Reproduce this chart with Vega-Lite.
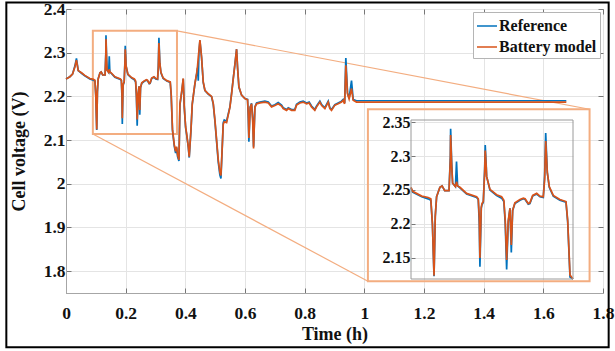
{
  "$schema": "https://vega.github.io/schema/vega-lite/v6.json",
  "width": 537,
  "height": 284,
  "autosize": "none",
  "padding": {"left": 66, "top": 9, "right": 12, "bottom": 58},
  "background": "white",
  "config": {"view": {"stroke": "#a6a6a6", "strokeWidth": 1}, "font": "Liberation Serif"},
  "datasets": {
    "v": [
      {"t": 0.000, "ref": 2.240, "mod": 2.240},
      {"t": 0.013, "ref": 2.245, "mod": 2.245},
      {"t": 0.022, "ref": 2.251, "mod": 2.251},
      {"t": 0.030, "ref": 2.270, "mod": 2.268},
      {"t": 0.035, "ref": 2.287, "mod": 2.283},
      {"t": 0.041, "ref": 2.259, "mod": 2.259},
      {"t": 0.052, "ref": 2.253, "mod": 2.254},
      {"t": 0.063, "ref": 2.247, "mod": 2.248},
      {"t": 0.080, "ref": 2.240, "mod": 2.241},
      {"t": 0.092, "ref": 2.237, "mod": 2.239},
      {"t": 0.097, "ref": 2.235, "mod": 2.237},
      {"t": 0.100, "ref": 2.200, "mod": 2.200},
      {"t": 0.103, "ref": 2.123, "mod": 2.124},
      {"t": 0.1053, "ref": 2.211, "mod": 2.211},
      {"t": 0.1078, "ref": 2.240, "mod": 2.240},
      {"t": 0.114, "ref": 2.254, "mod": 2.254},
      {"t": 0.118, "ref": 2.256, "mod": 2.256},
      {"t": 0.123, "ref": 2.249, "mod": 2.249},
      {"t": 0.131, "ref": 2.249, "mod": 2.249},
      {"t": 0.1335, "ref": 2.300, "mod": 2.295},
      {"t": 0.134, "ref": 2.340, "mod": 2.331},
      {"t": 0.136, "ref": 2.290, "mod": 2.285},
      {"t": 0.1377, "ref": 2.260, "mod": 2.260},
      {"t": 0.143, "ref": 2.255, "mod": 2.255},
      {"t": 0.145, "ref": 2.292, "mod": 2.262},
      {"t": 0.147, "ref": 2.256, "mod": 2.256},
      {"t": 0.1514, "ref": 2.253, "mod": 2.254},
      {"t": 0.1638, "ref": 2.244, "mod": 2.245},
      {"t": 0.1825, "ref": 2.239, "mod": 2.240},
      {"t": 0.1856, "ref": 2.236, "mod": 2.237},
      {"t": 0.1875, "ref": 2.200, "mod": 2.210},
      {"t": 0.1887, "ref": 2.137, "mod": 2.150},
      {"t": 0.1912, "ref": 2.223, "mod": 2.225},
      {"t": 0.1925, "ref": 2.228, "mod": 2.230},
      {"t": 0.195, "ref": 2.232, "mod": 2.233},
      {"t": 0.1975, "ref": 2.280, "mod": 2.275},
      {"t": 0.1986, "ref": 2.316, "mod": 2.308},
      {"t": 0.2005, "ref": 2.285, "mod": 2.283},
      {"t": 0.2012, "ref": 2.270, "mod": 2.270},
      {"t": 0.2074, "ref": 2.250, "mod": 2.251},
      {"t": 0.2199, "ref": 2.242, "mod": 2.243},
      {"t": 0.2292, "ref": 2.238, "mod": 2.240},
      {"t": 0.2334, "ref": 2.233, "mod": 2.235},
      {"t": 0.236, "ref": 2.200, "mod": 2.205},
      {"t": 0.2386, "ref": 2.133, "mod": 2.147},
      {"t": 0.2416, "ref": 2.203, "mod": 2.205},
      {"t": 0.2448, "ref": 2.223, "mod": 2.223},
      {"t": 0.2473, "ref": 2.158, "mod": 2.169},
      {"t": 0.2498, "ref": 2.220, "mod": 2.220},
      {"t": 0.254, "ref": 2.230, "mod": 2.231},
      {"t": 0.2635, "ref": 2.235, "mod": 2.236},
      {"t": 0.2697, "ref": 2.237, "mod": 2.238},
      {"t": 0.273, "ref": 2.236, "mod": 2.237},
      {"t": 0.279, "ref": 2.229, "mod": 2.230},
      {"t": 0.282, "ref": 2.230, "mod": 2.231},
      {"t": 0.2872, "ref": 2.241, "mod": 2.242},
      {"t": 0.2947, "ref": 2.244, "mod": 2.245},
      {"t": 0.3008, "ref": 2.240, "mod": 2.241},
      {"t": 0.307, "ref": 2.239, "mod": 2.240},
      {"t": 0.3095, "ref": 2.270, "mod": 2.265},
      {"t": 0.3115, "ref": 2.334, "mod": 2.322},
      {"t": 0.3145, "ref": 2.276, "mod": 2.276},
      {"t": 0.3182, "ref": 2.254, "mod": 2.255},
      {"t": 0.3257, "ref": 2.241, "mod": 2.242},
      {"t": 0.338, "ref": 2.235, "mod": 2.236},
      {"t": 0.3494, "ref": 2.232, "mod": 2.233},
      {"t": 0.3526, "ref": 2.203, "mod": 2.205},
      {"t": 0.3569, "ref": 2.122, "mod": 2.125},
      {"t": 0.363, "ref": 2.086, "mod": 2.089},
      {"t": 0.3674, "ref": 2.070, "mod": 2.074},
      {"t": 0.3707, "ref": 2.083, "mod": 2.085},
      {"t": 0.374, "ref": 2.062, "mod": 2.066},
      {"t": 0.3786, "ref": 2.052, "mod": 2.055},
      {"t": 0.3819, "ref": 2.180, "mod": 2.183},
      {"t": 0.3875, "ref": 2.208, "mod": 2.210},
      {"t": 0.393, "ref": 2.240, "mod": 2.241},
      {"t": 0.3964, "ref": 2.175, "mod": 2.176},
      {"t": 0.401, "ref": 2.128, "mod": 2.130},
      {"t": 0.4043, "ref": 2.113, "mod": 2.115},
      {"t": 0.410, "ref": 2.083, "mod": 2.085},
      {"t": 0.413, "ref": 2.060, "mod": 2.062},
      {"t": 0.4188, "ref": 2.121, "mod": 2.123},
      {"t": 0.4232, "ref": 2.182, "mod": 2.183},
      {"t": 0.432, "ref": 2.228, "mod": 2.229},
      {"t": 0.4378, "ref": 2.251, "mod": 2.252},
      {"t": 0.441, "ref": 2.265, "mod": 2.270},
      {"t": 0.4434, "ref": 2.236, "mod": 2.290},
      {"t": 0.4456, "ref": 2.300, "mod": 2.305},
      {"t": 0.4489, "ref": 2.328, "mod": 2.329},
      {"t": 0.4545, "ref": 2.288, "mod": 2.289},
      {"t": 0.460, "ref": 2.232, "mod": 2.233},
      {"t": 0.4657, "ref": 2.213, "mod": 2.214},
      {"t": 0.4768, "ref": 2.205, "mod": 2.206},
      {"t": 0.488, "ref": 2.199, "mod": 2.200},
      {"t": 0.4936, "ref": 2.182, "mod": 2.184},
      {"t": 0.4992, "ref": 2.143, "mod": 2.146},
      {"t": 0.5048, "ref": 2.097, "mod": 2.100},
      {"t": 0.5103, "ref": 2.050, "mod": 2.055},
      {"t": 0.5159, "ref": 2.020, "mod": 2.026},
      {"t": 0.5193, "ref": 2.012, "mod": 2.019},
      {"t": 0.5237, "ref": 2.083, "mod": 2.085},
      {"t": 0.527, "ref": 2.140, "mod": 2.136},
      {"t": 0.5304, "ref": 2.146, "mod": 2.142},
      {"t": 0.5382, "ref": 2.143, "mod": 2.140},
      {"t": 0.5494, "ref": 2.176, "mod": 2.175},
      {"t": 0.555, "ref": 2.207, "mod": 2.205},
      {"t": 0.5606, "ref": 2.241, "mod": 2.240},
      {"t": 0.5662, "ref": 2.274, "mod": 2.273},
      {"t": 0.5718, "ref": 2.308, "mod": 2.308},
      {"t": 0.575, "ref": 2.266, "mod": 2.267},
      {"t": 0.5796, "ref": 2.221, "mod": 2.222},
      {"t": 0.5885, "ref": 2.203, "mod": 2.203},
      {"t": 0.5997, "ref": 2.195, "mod": 2.195},
      {"t": 0.6086, "ref": 2.193, "mod": 2.192},
      {"t": 0.611, "ref": 2.150, "mod": 2.160},
      {"t": 0.613, "ref": 2.096, "mod": 2.105},
      {"t": 0.6175, "ref": 2.176, "mod": 2.175},
      {"t": 0.622, "ref": 2.184, "mod": 2.183},
      {"t": 0.626, "ref": 2.150, "mod": 2.140},
      {"t": 0.6287, "ref": 2.085, "mod": 2.081},
      {"t": 0.6332, "ref": 2.176, "mod": 2.175},
      {"t": 0.6388, "ref": 2.185, "mod": 2.183},
      {"t": 0.650, "ref": 2.187, "mod": 2.185},
      {"t": 0.6667, "ref": 2.189, "mod": 2.187},
      {"t": 0.678, "ref": 2.187, "mod": 2.185},
      {"t": 0.689, "ref": 2.178, "mod": 2.176},
      {"t": 0.7002, "ref": 2.181, "mod": 2.179},
      {"t": 0.7113, "ref": 2.186, "mod": 2.183},
      {"t": 0.7225, "ref": 2.180, "mod": 2.178},
      {"t": 0.7281, "ref": 2.174, "mod": 2.172},
      {"t": 0.7393, "ref": 2.170, "mod": 2.168},
      {"t": 0.745, "ref": 2.174, "mod": 2.172},
      {"t": 0.756, "ref": 2.170, "mod": 2.168},
      {"t": 0.767, "ref": 2.170, "mod": 2.168},
      {"t": 0.7728, "ref": 2.182, "mod": 2.180},
      {"t": 0.7839, "ref": 2.187, "mod": 2.185},
      {"t": 0.795, "ref": 2.189, "mod": 2.187},
      {"t": 0.8063, "ref": 2.185, "mod": 2.183},
      {"t": 0.815, "ref": 2.187, "mod": 2.185},
      {"t": 0.823, "ref": 2.178, "mod": 2.176},
      {"t": 0.834, "ref": 2.170, "mod": 2.168},
      {"t": 0.840, "ref": 2.178, "mod": 2.176},
      {"t": 0.851, "ref": 2.189, "mod": 2.187},
      {"t": 0.857, "ref": 2.181, "mod": 2.179},
      {"t": 0.8677, "ref": 2.174, "mod": 2.172},
      {"t": 0.879, "ref": 2.189, "mod": 2.187},
      {"t": 0.8844, "ref": 2.174, "mod": 2.172},
      {"t": 0.890, "ref": 2.170, "mod": 2.168},
      {"t": 0.9012, "ref": 2.181, "mod": 2.180},
      {"t": 0.9123, "ref": 2.185, "mod": 2.183},
      {"t": 0.9235, "ref": 2.189, "mod": 2.187},
      {"t": 0.929, "ref": 2.193, "mod": 2.191},
      {"t": 0.934, "ref": 2.185, "mod": 2.183},
      {"t": 0.938, "ref": 2.288, "mod": 2.271},
      {"t": 0.9436, "ref": 2.208, "mod": 2.206},
      {"t": 0.949, "ref": 2.196, "mod": 2.194},
      {"t": 0.957, "ref": 2.236, "mod": 2.218},
      {"t": 0.9626, "ref": 2.193, "mod": 2.191},
      {"t": 0.9737, "ref": 2.190, "mod": 2.187},
      {"t": 1.0, "ref": 2.190, "mod": 2.187},
      {"t": 1.2, "ref": 2.190, "mod": 2.187},
      {"t": 1.4, "ref": 2.190, "mod": 2.187},
      {"t": 1.6, "ref": 2.190, "mod": 2.187},
      {"t": 1.677, "ref": 2.190, "mod": 2.187}
    ]
  },
  "data": {"name": "v"},
  "resolve": {"scale": {"x": "independent", "y": "independent"}},
  "layer": [
    {
      "layer": [
        {
          "data": {"values": [{}]},
          "mark": {"type": "rect", "fill": null, "stroke": "#000000", "strokeWidth": 2, "clip": false},
          "encoding": {
            "x": {"datum": -0.2, "type": "quantitative", "scale": {"domain": [0, 1.8], "nice": false, "zero": false}},
            "x2": {"datum": 1.819},
            "y": {"datum": 2.4148, "type": "quantitative", "scale": {"domain": [1.75, 2.4], "nice": false, "zero": false}},
            "y2": {"datum": 1.6261}
          }
        },
        {
          "data": {"values": [{}]},
          "mark": {"type": "rect", "fill": null, "stroke": "#F3AD80", "strokeWidth": 2},
          "encoding": {
            "x": {"datum": 0.09, "type": "quantitative"},
            "x2": {"datum": 0.372},
            "y": {"datum": 2.35, "type": "quantitative"},
            "y2": {"datum": 2.114}
          }
        },
        {
          "data": {"values": [{}]},
          "mark": {"type": "rect", "fill": null, "stroke": "#F3AD80", "strokeWidth": 2},
          "encoding": {
            "x": {"datum": 1.012, "type": "quantitative"},
            "x2": {"datum": 1.755},
            "y": {"datum": 2.1705, "type": "quantitative"},
            "y2": {"datum": 1.777}
          }
        },
        {
          "data": {"values": [{}]},
          "mark": {"type": "rule", "stroke": "#F3AD80", "strokeWidth": 1.2},
          "encoding": {
            "x": {"datum": 0.372, "type": "quantitative"},
            "x2": {"datum": 1.755},
            "y": {"datum": 2.35, "type": "quantitative"},
            "y2": {"datum": 2.1705}
          }
        },
        {
          "data": {"values": [{}]},
          "mark": {"type": "rule", "stroke": "#F3AD80", "strokeWidth": 1.2},
          "encoding": {
            "x": {"datum": 0.09, "type": "quantitative"},
            "x2": {"datum": 1.012},
            "y": {"datum": 2.114, "type": "quantitative"},
            "y2": {"datum": 1.777}
          }
        },
        {
          "mark": {"type": "line", "strokeWidth": 1.7},
          "encoding": {
            "x": {
              "field": "t", "type": "quantitative",
              "scale": {"domain": [0, 1.8], "nice": false, "zero": false},
              "axis": {
                "title": "Time (h)", "values": [0, 0.2, 0.4, 0.6, 0.8, 1, 1.2, 1.4, 1.6, 1.8], "format": "~g",
                "labelFont": "Liberation Serif", "labelFontSize": 17.5, "labelFontWeight": "bold", "labelColor": "#111111",
                "labelFlush": false, "labelOverlap": false, "labelPadding": 16,
                "titleFont": "Liberation Serif", "titleFontSize": 18, "titleFontWeight": "bold", "titleColor": "#111111", "titlePadding": 4,
                "domainColor": "#a6a6a6", "tickColor": "#777777", "tickSize": -5,
                "grid": true, "gridColor": "#e4e4e4"
              }
            },
            "y": {
              "field": "ref", "type": "quantitative",
              "scale": {"domain": [1.75, 2.4], "nice": false, "zero": false},
              "axis": {
                "title": "Cell voltage (V)", "values": [1.8, 1.9, 2, 2.1, 2.2, 2.3, 2.4], "format": "~g",
                "labelFont": "Liberation Serif", "labelFontSize": 17.5, "labelFontWeight": "bold", "labelColor": "#111111",
                "labelFlush": false, "labelOverlap": false, "labelPadding": 6,
                "titleFont": "Liberation Serif", "titleFontSize": 18, "titleFontWeight": "bold", "titleColor": "#111111", "titlePadding": 15,
                "domainColor": "#a6a6a6", "tickColor": "#777777", "tickSize": -5,
                "grid": true, "gridColor": "#e4e4e4"
              }
            },
            "color": {
              "datum": "Reference",
              "scale": {"domain": ["Reference", "Battery model"], "range": ["#0072BD", "#D95319"]},
              "legend": {
                "title": null, "orient": "top-right", "offset": 3, "padding": 3,
                "fillColor": "white", "strokeColor": "#b5b5b5",
                "labelFont": "Liberation Serif", "labelFontSize": 16, "labelFontWeight": "bold", "labelColor": "#111111",
                "symbolType": "stroke", "symbolSize": 400, "symbolStrokeWidth": 1.5, "labelOffset": 1, "rowPadding": 2
              }
            }
          }
        },
        {
          "mark": {"type": "line", "strokeWidth": 1.7},
          "encoding": {
            "x": {"field": "t", "type": "quantitative"},
            "y": {"field": "mod", "type": "quantitative"},
            "color": {"datum": "Battery model"}
          }
        }
      ]
    },
    {
      "mark": {"type": "line", "opacity": 0},
      "encoding": {
        "x": {
          "field": "t", "type": "quantitative",
          "scale": {"domain": [0, 1.8], "nice": false, "zero": false},
          "axis": {"orient": "top", "title": null, "labels": false, "domain": false, "grid": false, "values": [0, 0.2, 0.4, 0.6, 0.8, 1, 1.2, 1.4, 1.6, 1.8], "tickColor": "#777777", "tickSize": -5}
        },
        "y": {
          "field": "mod", "type": "quantitative",
          "scale": {"domain": [1.75, 2.4], "nice": false, "zero": false},
          "axis": {"orient": "right", "title": null, "labels": false, "domain": false, "grid": false, "values": [1.8, 1.9, 2, 2.1, 2.2, 2.3, 2.4], "tickColor": "#777777", "tickSize": -5}
        }
      }
    },
    {
      "transform": [{"filter": "datum.t >= 0.05 && datum.t <= 0.37"}],
      "layer": [
        {
          "mark": {"type": "line", "color": "#0072BD", "strokeWidth": 1.7},
          "encoding": {
            "x": {"field": "t", "type": "quantitative", "scale": {"domain": [0.06, 0.3625], "range": [345, 507], "clamp": true, "nice": false, "zero": false}, "axis": null},
            "y": {
              "field": "ref", "type": "quantitative",
              "scale": {"domain": [2.119, 2.353], "range": [270, 111], "clamp": true, "nice": false, "zero": false},
              "axis": {
                "orient": "left", "offset": -345, "title": null,
                "values": [2.15, 2.2, 2.25, 2.3, 2.35], "format": "~g",
                "labelFont": "Liberation Serif", "labelFontSize": 16, "labelFontWeight": "bold", "labelColor": "#111111",
                "labelFlush": false, "labelOverlap": false, "labelPadding": 5,
                "domain": false, "tickColor": "#777777", "tickSize": -4,
                "grid": true, "gridColor": "#e4e4e4"
              }
            }
          }
        },
        {
          "mark": {"type": "line", "color": "#D95319", "strokeWidth": 1.7},
          "encoding": {
            "x": {"field": "t", "type": "quantitative"},
            "y": {"field": "mod", "type": "quantitative"}
          }
        },
        {
          "data": {"values": [{}]},
          "mark": {"type": "rect", "fill": null, "stroke": "#9a9a9a", "strokeWidth": 1},
          "encoding": {
            "x": {"datum": 0.06, "type": "quantitative"},
            "x2": {"datum": 0.3625},
            "y": {"datum": 2.119, "type": "quantitative"},
            "y2": {"datum": 2.353}
          }
        }
      ]
    }
  ]
}
